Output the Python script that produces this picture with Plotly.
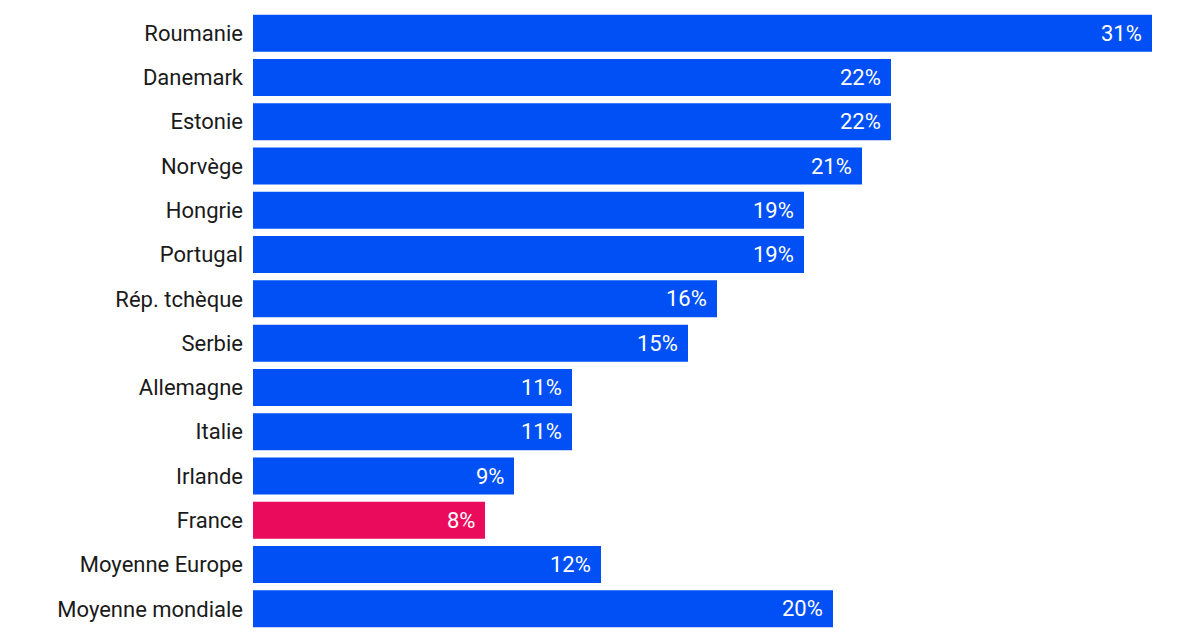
import plotly.graph_objects as go

countries = ["Roumanie", "Danemark", "Estonie", "Norvège", "Hongrie", "Portugal",
             "Rép. tchèque", "Serbie", "Allemagne", "Italie", "Irlande", "France",
             "Moyenne Europe", "Moyenne mondiale"]
values = [31, 22, 22, 21, 19, 19, 16, 15, 11, 11, 9, 8, 12, 20]
labels = [f"{v}%" for v in values]

BLUE = "#0050F5"
PINK = "#EA0B5C"
colors = [PINK if c == "France" else BLUE for c in countries]

fig = go.Figure(go.Bar(
    x=values, y=countries, orientation="h",
    marker=dict(color=colors, line=dict(width=0)),
    hoverinfo="skip",
))

for c, v, t in zip(countries, values, labels):
    fig.add_annotation(x=v, y=c, text=t, xanchor="right", yanchor="middle",
                       xshift=-8, showarrow=False,
                       font=dict(family="Roboto", size=22, color="white"))

fig.update_layout(
    width=1200, height=640,
    margin=dict(l=245, r=56, t=3, b=17),
    paper_bgcolor="white", plot_bgcolor="white",
    bargap=0.165,
    showlegend=False,
    font=dict(family="Roboto", size=22, color="#1a1a1a"),
    xaxis=dict(range=[0, 31], visible=False, fixedrange=True),
    yaxis=dict(autorange="reversed", showgrid=False, zeroline=False,
               showline=False, ticks="", ticklabelstandoff=9,
               tickfont=dict(family="Roboto", size=22, color="#1a1a1a")),
)

fig.write_html("out.html")
